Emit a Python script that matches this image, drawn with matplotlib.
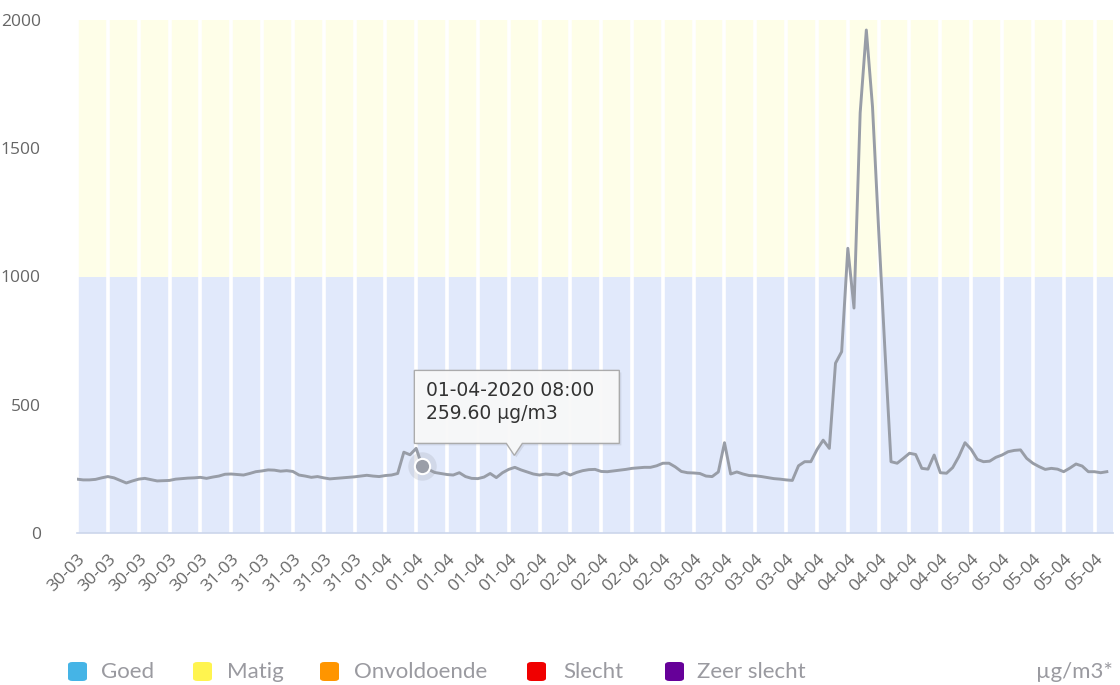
import numpy as np
import matplotlib.pyplot as plt
import matplotlib.transforms as mtransforms
from matplotlib.patches import Polygon, FancyBboxPatch

# hourly values, 30-03 00:00 .. 05-04 23:00
pm_values = [
    210, 207, 207, 209, 215, 220, 215, 205, 195, 203, 210, 213,
    208, 203, 204, 205, 210, 212, 214, 215, 217, 213, 218, 222,
    229, 230, 228, 226, 232, 239, 242, 246, 245, 241, 243, 240,
    226, 222, 217, 220, 215, 211, 213, 215, 217, 219, 222, 225,
    222, 220, 224, 226, 232, 315, 305, 330, 259.6, 248, 236, 232,
    228, 226, 235, 220, 213, 212, 218, 232, 216, 235, 248, 256,
    246, 238, 230, 226, 230, 228, 226, 236, 226, 236, 243, 247,
    248, 240, 239, 242, 245, 248, 252, 254, 256, 256, 262, 272,
    272, 258, 240, 235, 234, 232, 222, 220, 238, 352, 230, 238,
    230, 224, 223, 220, 216, 212, 210, 207, 205, 262, 278, 278,
    325, 362, 330, 662, 707, 1110, 877, 1638, 1961, 1662, 1180, 720,
    278, 272, 291, 311, 306, 252, 249, 304, 235, 233, 255, 298,
    352, 326, 287, 278, 280, 295, 304, 317, 322, 324, 291, 272,
    259, 248, 252, 249, 239, 253, 269, 261, 239, 239, 235, 239,
]
hours = np.arange(len(pm_values))

tick_hours = np.arange(0, 168, 5)
tick_labels = [
    '30-03', '30-03', '30-03', '30-03', '30-03',
    '31-03', '31-03', '31-03', '31-03', '31-03',
    '01-04', '01-04', '01-04', '01-04', '01-04',
    '02-04', '02-04', '02-04', '02-04', '02-04',
    '03-04', '03-04', '03-04', '03-04',
    '04-04', '04-04', '04-04', '04-04', '04-04',
    '05-04', '05-04', '05-04', '05-04', '05-04',
]
y_ticks = [0, 500, 1000, 1500, 2000]

legend_names = ['Goed', 'Matig', 'Onvoldoende', 'Slecht', 'Zeer slecht']
legend_colors = ['#45b4e6', '#fff44f', '#ff9500', '#f00000', '#660099']
legend_box_x = [68, 193, 320, 527, 665]
legend_text_x = [101, 227, 354, 563, 697]

hover_hour = 56
hover_value = 259.60
hover_text = '01-04-2020 08:00\n259.60 µg/m3'

W, H = 1120, 685
fig = plt.figure(figsize=(W / 100, H / 100), dpi=100)
ax = fig.add_axes([77 / W, 152 / H, 1036 / W, 513 / H])

ax.axhspan(0, 1000, color='#e1e9fb', lw=0, zorder=0)
ax.axhspan(1000, 2000, color='#fefee8', lw=0, zorder=0)
for t in tick_hours:
    ax.axvline(t, color='white', lw=2.6, zorder=1)

ax.plot(hours, pm_values, color='#989da7', lw=2.1, zorder=3)

ax.set_xlim(0, 168)
ax.set_ylim(0, 2000)
for s in ['top', 'right', 'left']:
    ax.spines[s].set_visible(False)
ax.spines['bottom'].set_color('#ccd6eb')
ax.spines['bottom'].set_linewidth(1.2)

ax.set_yticks(y_ticks)
ax.set_yticklabels([str(v) for v in y_ticks], fontsize=12.5, color='#666666',
                   family='Open Sans')
ax.set_xticks(tick_hours)
ax.set_xticklabels(tick_labels, rotation=45, ha='right', rotation_mode='anchor',
                   fontsize=12.5, color='#666666', family='Open Sans')
ax.tick_params(axis='y', length=0, pad=26)
ax.tick_params(axis='x', length=0, pad=13)

# hovered point
ax.scatter([hover_hour], [hover_value], s=420, color='#9a9ea8', alpha=0.22,
           lw=0, zorder=4)
ax.plot(hover_hour, hover_value, 'o', ms=11, mfc='#9a9ea8', mec='white',
        mew=1.5, zorder=5)

# tooltip (pixel offsets from the point)
px, py = ax.transData.transform((hover_hour, hover_value))
L, R = px - 8, px + 197
B, T = py + 23, py + 96
tip = [(L, B), (px + 84, B), (px + 92, py + 11), (px + 100, B),
       (R, B), (R, T), (L, T)]
ident = mtransforms.IdentityTransform()
shadow = Polygon([(x + 2, y - 2) for x, y in tip], closed=True,
                 transform=ident, fc='#000000', alpha=0.08, ec='none')
fig.add_artist(shadow)
box = Polygon(tip, closed=True, transform=ident, fc='#f9f9f9', alpha=0.95,
              ec='#a8a8a8', lw=1)
fig.add_artist(box)
fig.text(px + 4, py + 85, hover_text, transform=ident, ha='left', va='top',
         fontsize=13.5, color='#333333', linespacing=1.25,
         family='DejaVu Sans')

# legend
for name, col, bx, tx in zip(legend_names, legend_colors, legend_box_x, legend_text_x):
    sq = FancyBboxPatch((bx / W, 4 / H), 19 / W, 19 / H,
                        boxstyle='round,pad=0,rounding_size=0.004',
                        transform=fig.transFigure, fc=col, ec='none')
    fig.add_artist(sq)
    fig.text(tx / W, 13 / H, name, ha='left', va='center', fontsize=16,
             color='#9a9aa0', family='Lato')
fig.text(1113 / W, 13 / H, 'µg/m3*', ha='right', va='center', fontsize=16,
         color='#9a9aa0', family='Lato')

fig.savefig('out.png', dpi=100)
